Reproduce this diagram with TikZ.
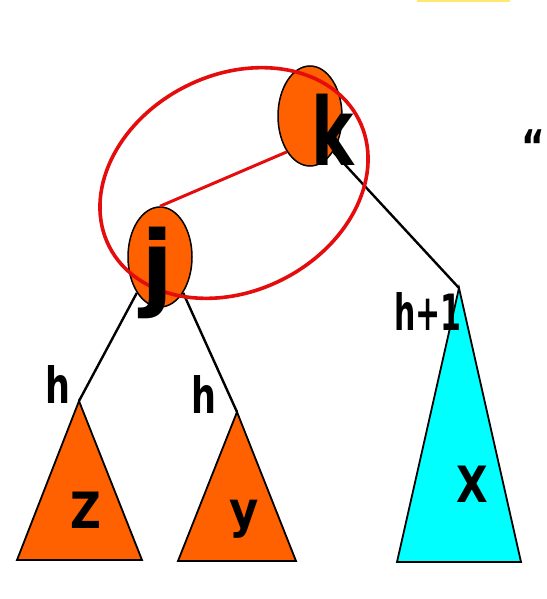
\documentclass[tikz,border=0pt]{standalone}
\usepackage{fontspec}
\setmainfont{DejaVu Sans}
\usetikzlibrary{shapes.geometric}
\definecolor{nodeorange}{RGB}{255,96,0}
\definecolor{subcyan}{RGB}{0,255,255}
\definecolor{ringred}{RGB}{228,12,12}
\definecolor{stripyellow}{RGB}{255,232,110}
\begin{document}
\begin{tikzpicture}[x=1pt,y=-1pt,
  treenode/.style={ellipse, draw=black, line width=1.5pt, fill=nodeorange,
    minimum width=64pt, minimum height=100pt, inner sep=0pt},
  edgeline/.style={draw=black, line width=2.4pt},
  subtree/.style={draw=black, line width=1.8pt, line join=miter},
  lbl/.style={anchor=base, inner sep=0pt, font=\bfseries\fontsize{50}{50}\selectfont},
  biglbl/.style={anchor=base, inner sep=0pt, font=\bfseries\fontsize{94}{94}\selectfont}]
\useasboundingbox (0,0) rectangle (546,599);
\fill[stripyellow] (417,0) rectangle (510,2.5);
% subtree triangles
\coordinate (Za) at (79,401);  \coordinate (Zl) at (17,560);  \coordinate (Zr) at (142,560);
\coordinate (Ya) at (237,412); \coordinate (Yl) at (178,561); \coordinate (Yr) at (296,561);
\coordinate (Xa) at (459,288); \coordinate (Xl) at (397,562); \coordinate (Xr) at (521,562);
\draw[subtree, fill=nodeorange] (Za) -- (Zl) -- (Zr) -- cycle;
\draw[subtree, fill=nodeorange] (Ya) -- (Yl) -- (Yr) -- cycle;
\draw[subtree, fill=subcyan] (Xa) -- (Xl) -- (Xr) -- cycle;
% tree nodes
\node[treenode] (k) at (310,116) {};
\node[treenode] (j) at (160,257) {};
% edges
\draw[edgeline] (j.south west) -- (Za);
\draw[edgeline] (j.south east) -- (Ya);
\draw[edgeline] (k.south east) -- (Xa);
\draw[ringred, line width=3pt] (j.north) -- (k.south west);
% red ring
\draw[ringred, line width=3.6pt, rotate around={27:(234,183)}] (234,183) ellipse [x radius=140, y radius=108];
% labels
\node[biglbl, xscale=0.68] (klbl) at (333,165) {k};
\node[biglbl] (jlbl) at (158,298) {j};
\node[lbl, xscale=0.7] (h1) at (58,403) {h};
\node[lbl, xscale=0.7] (h2) at (204,413) {h};
\node[lbl, xscale=0.6] (h3) at (428,330) {h+1};
\node[lbl, xscale=0.85] (zl) at (86,528) {Z};
\node[lbl, xscale=0.9] (yl) at (244,527) {y};
\node[lbl, xscale=0.82] (xl) at (472,502) {X};
\node[anchor=base, inner sep=0pt, font=\bfseries\fontsize{45}{45}\selectfont, xscale=0.8] (quote) at (533,162) {“};
\end{tikzpicture}
\end{document}
